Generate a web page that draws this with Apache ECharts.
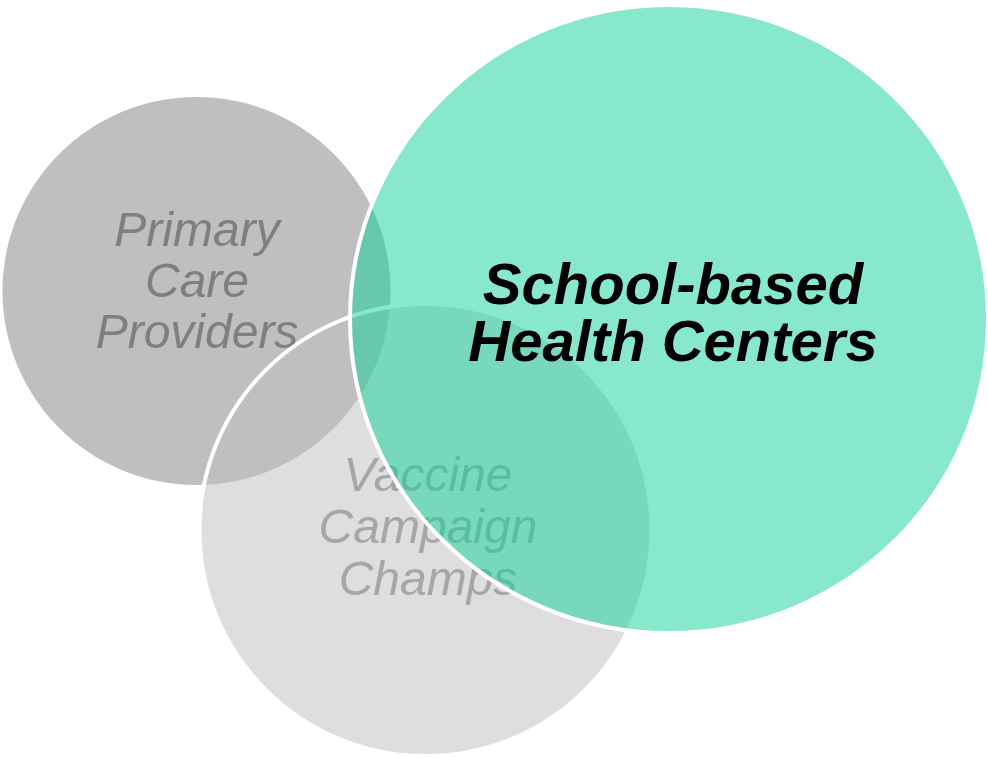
<!DOCTYPE html>
<html>
<head>
<meta charset="utf-8">
<script src="https://cdn.jsdelivr.net/npm/echarts@6/dist/echarts.min.js"></script>
<style>
  html, body { margin: 0; padding: 0; background: #fff; }
  #chart { width: 988px; height: 758px; }
</style>
</head>
<body>
<div id="chart"></div>
<script>
// groups of the diagram, in diagram units (0..988 x 0..758)
var groups = ['Primary\nCare\nProviders', 'Vaccine\nCampaign\nChamps', 'School-based\nHealth Centers'];
var centerX = [196.5, 425.5, 669];
var centerY = [291, 530, 319];
var radiusX = [194, 226, 319];
var radiusY = [194, 226, 314];
var labelX = [197, 428, 673];
var labelY = [284, 530, 316];

// look of each group (kept apart from the data)
var looks = [
    { fill: '#bfbfbf', stroke: null, text: '#7f7f7f', size: 48, weight: 'normal', lh: 51, zFill: 2, zStroke: 4, zText: 3 },
    { fill: '#dedede', stroke: '#ffffff', text: '#a6a6a6', size: 48, weight: 'normal', lh: 52, zFill: 1, zStroke: 4, zText: 5 },
    { fill: 'rgba(17,209,155,0.5)', stroke: '#ffffff', text: '#000000', size: 58, weight: 'bold', lh: 57, zFill: 6, zStroke: 7, zText: 8 }
];

var myChart = echarts.init(document.getElementById('chart'));

var seriesData = [];
for (var i = 0; i < groups.length; i++) {
    seriesData.push([centerX[i], centerY[i], radiusX[i], radiusY[i], labelX[i], labelY[i]]);
}

function renderCircle(params, api) {
    var k = params.dataIndex;
    var look = looks[k];
    var c = api.coord([api.value(0), api.value(1)]);
    var s = api.size([api.value(2), api.value(3)]);
    var l = api.coord([api.value(4), api.value(5)]);
    var children = [{
        type: 'ellipse',
        z2: look.zFill,
        shape: { cx: c[0], cy: c[1], rx: s[0], ry: s[1] },
        style: { fill: look.fill }
    }];
    if (look.stroke) {
        children.push({
            type: 'ellipse',
            z2: look.zStroke,
            shape: { cx: c[0], cy: c[1], rx: s[0], ry: s[1] },
            style: { fill: 'none', stroke: look.stroke, lineWidth: 4 }
        });
    }
    children.push({
        type: 'text',
        z2: look.zText,
        x: l[0],
        y: l[1],
        style: {
            text: groups[k],
            fill: look.text,
            fontFamily: 'Liberation Sans, Arial, sans-serif',
            fontStyle: 'italic',
            fontWeight: look.weight,
            fontSize: look.size,
            lineHeight: look.lh,
            align: 'center',
            verticalAlign: 'middle'
        }
    });
    return { type: 'group', children: children };
}

var option1 = {
    animation: false,
    backgroundColor: '#ffffff',
    grid: { left: 0, right: 0, top: 0, bottom: 0 },
    xAxis: { type: 'value', min: 0, max: 988, show: false },
    yAxis: { type: 'value', min: 0, max: 758, inverse: true, show: false },
    series: [{
        type: 'custom',
        silent: true,
        renderItem: renderCircle,
        data: seriesData
    }]
};
myChart.setOption(option1);
</script>
</body>
</html>
